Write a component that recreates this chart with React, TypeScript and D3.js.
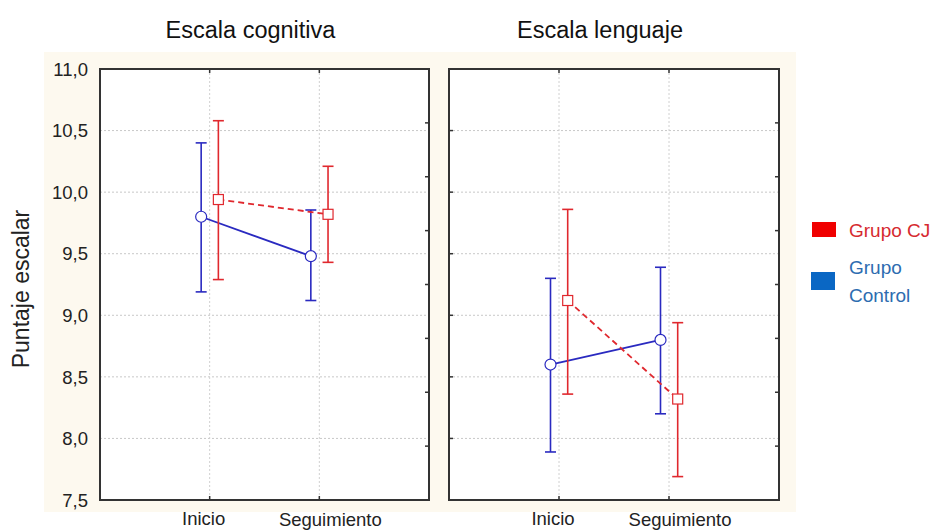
import React from "react";
import * as d3 from "d3";

const panels = ["Escala cognitiva", "Escala lenguaje"];
const timepoints = ["Inicio", "Seguimiento"];
const yTicks = [7.5, 8.0, 8.5, 9.0, 9.5, 10.0, 10.5, 11.0];

// [panel][time]
const cjMean = [[9.94, 9.82], [9.12, 8.32]];
const cjLow = [[9.29, 9.43], [8.36, 7.69]];
const cjHigh = [[10.58, 10.21], [9.86, 8.94]];
const ctrlMean = [[9.80, 9.48], [8.60, 8.80]];
const ctrlLow = [[9.19, 9.12], [7.89, 8.20]];
const ctrlHigh = [[10.40, 9.855], [9.30, 9.39]];

const FONT = "'Liberation Sans', Arial, sans-serif";
const RED = "#e0282e";
const BLUE = "#2a2ac0";

export default function App() {
  const W = 938, H = 531;
  const top = 69, bottom = 500;
  const panelX = [[100, 429], [449, 779]];
  const y = d3.scaleLinear().domain([7.5, 11]).range([bottom, top]);
  const yMinor = d3.scaleLinear().domain([0, 8]).range([bottom, top]);
  const minorTicks = d3.range(1, 8);

  const series = [
    { name: "Grupo Control", mean: ctrlMean, low: ctrlLow, high: ctrlHigh, color: BLUE, dx: -8.5, dash: null, marker: "circle" },
    { name: "Grupo CJ", mean: cjMean, low: cjLow, high: cjHigh, color: RED, dx: 8.7, dash: "6,4", marker: "square" },
  ];

  return (
    <svg width={W} height={H} style={{ position: "absolute", left: 0, top: 0, fontFamily: FONT }}>
      <rect x={0} y={0} width={W} height={H} fill="#fff" />
      <rect x={44} y={52} width={752} height={460} fill="#fdf9ef" />
      {panels.map((title, p) => {
        const [x0, x1] = panelX[p];
        const x = d3.scaleLinear().domain([0, 3]).range([x0, x1]);
        const xc = (i: number) => x(i + 1);
        return (
          <g key={p}>
            <rect x={x0} y={top} width={x1 - x0} height={bottom - top} fill="#fff" />
            {yTicks.slice(1, -1).map((t) => (
              <line key={t} x1={x0} x2={x1} y1={y(t)} y2={y(t)} stroke="#c8c8c8" strokeWidth={1} strokeDasharray="2,2" />
            ))}
            {timepoints.map((_, i) => (
              <line key={i} x1={xc(i)} x2={xc(i)} y1={top} y2={bottom} stroke="#d0d0d0" strokeWidth={1} strokeDasharray="2,2" />
            ))}
            {p === 1 && yTicks.slice(1, -1).map((t) => (
              <line key={"l" + t} x1={x0} x2={x0 + 4} y1={y(t)} y2={y(t)} stroke="#333" strokeWidth={1.5} />
            ))}
            {minorTicks.map((k) => (
              <line key={"r" + k} x1={x1 - 4} x2={x1} y1={yMinor(k)} y2={yMinor(k)} stroke="#333" strokeWidth={1.5} />
            ))}
            {timepoints.map((_, i) => (
              <g key={"xt" + i}>
                <line x1={xc(i)} x2={xc(i)} y1={top} y2={top + 4} stroke="#333" strokeWidth={1.5} />
                <line x1={xc(i)} x2={xc(i)} y1={bottom - 4} y2={bottom} stroke="#333" strokeWidth={1.5} />
              </g>
            ))}
            {series.map((s, si) => {
              const pts = timepoints.map((_, i) => [xc(i) + s.dx, y(s.mean[p][i])] as [number, number]);
              const line = d3.line()(pts) || "";
              return (
                <g key={si}>
                  {timepoints.map((_, i) => {
                    const cx = xc(i) + s.dx;
                    return (
                      <g key={i}>
                        <line x1={cx} x2={cx} y1={y(s.high[p][i])} y2={y(s.low[p][i])} stroke={s.color} strokeWidth={1.6} />
                        <line x1={cx - 5.5} x2={cx + 5.5} y1={y(s.high[p][i])} y2={y(s.high[p][i])} stroke={s.color} strokeWidth={1.6} />
                        <line x1={cx - 5.5} x2={cx + 5.5} y1={y(s.low[p][i])} y2={y(s.low[p][i])} stroke={s.color} strokeWidth={1.6} />
                      </g>
                    );
                  })}
                  <path d={line} fill="none" stroke={s.color} strokeWidth={1.8} strokeDasharray={s.dash || undefined} />
                  {pts.map(([px, py], i) =>
                    s.marker === "circle" ? (
                      <circle key={i} cx={px} cy={py} r={5.5} fill="#fff" stroke={s.color} strokeWidth={1.2} />
                    ) : (
                      <rect key={i} x={px - 5} y={py - 5} width={10} height={10} fill="#fff" stroke={s.color} strokeWidth={1.2} />
                    )
                  )}
                </g>
              );
            })}
            <rect x={x0} y={top} width={x1 - x0} height={bottom - top} fill="none" stroke="#333" strokeWidth={2} />
            {p === 0 && yTicks.map((t) => (
              <text key={t} x={x0 - 12} y={y(t)} dy="0.36em" textAnchor="end" fontSize={18.5} fill="#222">
                {d3.format(".1f")(t).replace(".", ",")}
              </text>
            ))}
            <text x={xc(0) - 6} y={525} textAnchor="middle" fontSize={18.5} fill="#222">{timepoints[0]}</text>
            <text x={xc(1) + 11} y={526} textAnchor="middle" fontSize={18.5} fill="#222">{timepoints[1]}</text>
            <text x={(x0 + x1) / 2 - 14} y={38} textAnchor="middle" fontSize={23.5} fill="#111">{title}</text>
          </g>
        );
      })}
      <text transform="translate(29,289) rotate(-90)" textAnchor="middle" fontSize={23} fill="#222">Puntaje escalar</text>
      <rect x={812} y={222} width={24} height={15} fill="#f00000" />
      <text x={849} y={237} fontSize={19} fill="#d62a30">Grupo CJ</text>
      <rect x={811} y={272} width={24} height={18} fill="#0a67c4" />
      <text x={849} y={274} fontSize={19} fill="#2d6cb0">Grupo</text>
      <text x={849} y={302} fontSize={19} fill="#2d6cb0">Control</text>
    </svg>
  );
}
